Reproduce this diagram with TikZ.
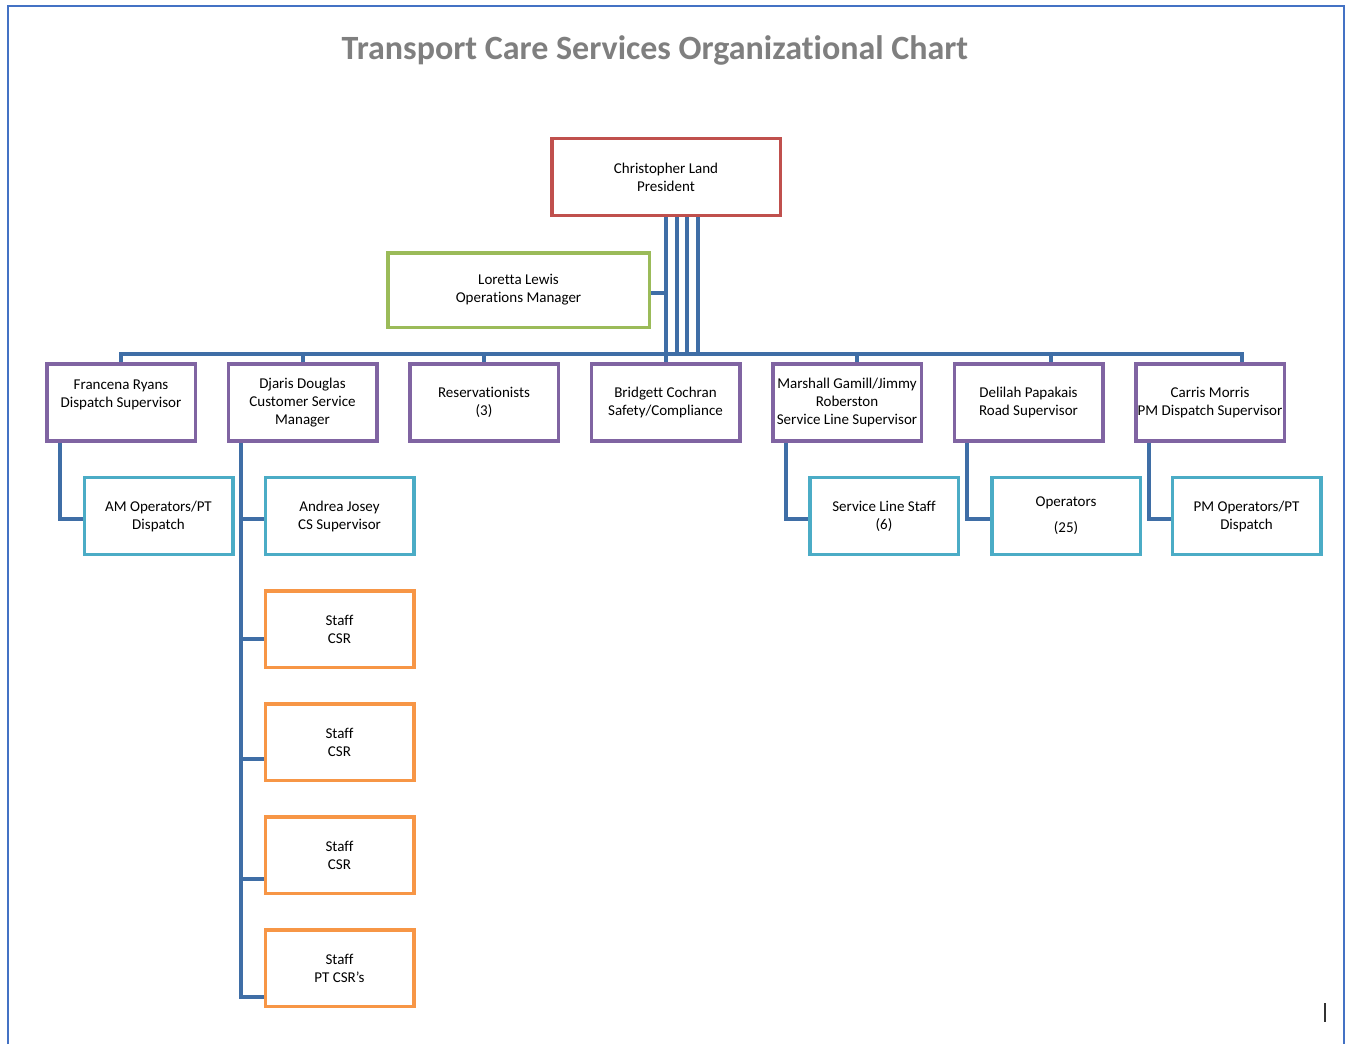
\documentclass[tikz,border=0pt]{standalone}
\usepackage{fontspec}
\setmainfont{Carlito}[Ligatures=NoCommon]
\usetikzlibrary{positioning,backgrounds}
\definecolor{linkblue}{HTML}{3F6EA6}
\definecolor{framblue}{HTML}{4472C4}
\definecolor{presred}{HTML}{C0504D}
\definecolor{mgrgreen}{HTML}{9BBB59}
\definecolor{supviolet}{HTML}{8064A2}
\definecolor{teamcyan}{HTML}{4BACC6}
\definecolor{csrorange}{HTML}{F79646}
\definecolor{titlegray}{HTML}{7F7F7F}

\begin{document}
\begin{tikzpicture}[x=1pt,y=-1pt,font=\fontsize{15}{18}\selectfont,
    box/.style={draw,line width=3.5pt,fill=white,align=center,inner xsep=0pt,
      minimum width=148.5pt,minimum height=77pt},
    pres/.style={box,draw=presred,minimum width=228.5pt},
    mgr/.style={box,draw=mgrgreen,minimum width=261.5pt,minimum height=74.5pt},
    sup/.style={box,draw=supviolet},
    team/.style={box,draw=teamcyan},
    csr/.style={box,draw=csrorange,minimum height=76.5pt},
    link/.style={draw=linkblue,line width=4pt}]
  \useasboundingbox (0,0) rectangle (1346,1044);
  \draw[framblue,line width=2.5pt] (8,1044) |- (1344,6) -- (1344,1044);
  \node[font=\fontsize{34}{38}\selectfont\bfseries,text=titlegray] (title) at (655,50)
    {Transport Care Services Organizational Chart};

  % top
  \node[pres] (cland) at (666,177) {Christopher Land\\President};
  \node[mgr] (lewis) at (518.5,290) {Loretta Lewis\\Operations Manager};

  % supervisors
  \node[sup] (ryans) at (121,402.5) {Francena Ryans\\Dispatch Supervisor\\\mbox{}};
  \node[sup,right=29.5pt of ryans] (douglas) {Djaris Douglas\\Customer Service\\Manager};
  \node[sup,right=29.5pt of douglas] (reserv) {Reservationists\\(3)};
  \node[sup,right=29.5pt of reserv] (cochran) {Bridgett Cochran\\Safety/Compliance};
  \node[sup,right=29.5pt of cochran] (gamill) {Marshall Gamill/Jimmy\\Roberston\\Service Line Supervisor};
  \node[sup,right=29.5pt of gamill] (papakais) {Delilah Papakais\\Road Supervisor};
  \node[sup,right=29.5pt of papakais] (morris) {Carris Morris\\PM Dispatch Supervisor};

  % teams
  \node[team,below=33pt of ryans,xshift=37.5pt] (amops) {AM Operators/PT\\Dispatch};
  \node[team,below=33pt of douglas,xshift=37pt] (josey) {Andrea Josey\\CS Supervisor};
  \node[team,below=33pt of gamill,xshift=37pt] (slstaff) {Service Line Staff\\(6)};
  \node[team,below=33pt of papakais,xshift=37.5pt] (drivers) {Operators\\[8pt](25)};
  \node[team,below=33pt of morris,xshift=36.5pt] (pmops) {PM Operators/PT\\Dispatch};

  % customer service staff
  \node[csr,below=33pt of josey] (csrA) {Staff\\CSR};
  \node[csr,below=33pt of csrA] (csrB) {Staff\\CSR};
  \node[csr,below=33pt of csrB] (csrC) {Staff\\CSR};
  \node[csr,below=33pt of csrC] (csrD) {Staff\\PT CSR's};

  \begin{scope}[on background layer]
    \coordinate (busR) at (1242,354);
    \draw[link] (ryans.north) |- (busR) -- (busR |- morris.north);
    \foreach \n in {douglas,reserv}
      \draw[link] (\n.north) -- (\n.north |- busR);
    \foreach \n/\dx in {gamill/9.5,papakais/22}
      \draw[link] ([xshift=\dx pt]\n.north) -- ([xshift=\dx pt]\n.north |- busR);
    \draw[link] (cland.south -| cochran.north) -- (cochran.north);
    \foreach \dx in {10.5,21,31.5}
      \draw[link] ([xshift=\dx pt]cland.south) -- ([xshift=\dx pt]cland.south |- busR);
    \draw[link] ([yshift=-3pt]lewis.east) -- ([yshift=-3pt]lewis.east -| cochran.north);
    \foreach \p/\c in {ryans/amops,gamill/slstaff,papakais/drivers,morris/pmops}
      \draw[link] ([xshift=14.5pt]\p.south west) |- ([yshift=-3pt]\c.west);
    \coordinate (djspine) at ([xshift=14.5pt]douglas.south west);
    \foreach \c/\dy in {josey/3,csrA/10,csrB/17,csrC/24,csrD/29}
      \draw[link] (djspine) |- ([yshift=-\dy pt]\c.west);
  \end{scope}

  \draw[black!80,line width=1.5pt] (1325,1003) -- (1325,1022);
\end{tikzpicture}
\end{document}
